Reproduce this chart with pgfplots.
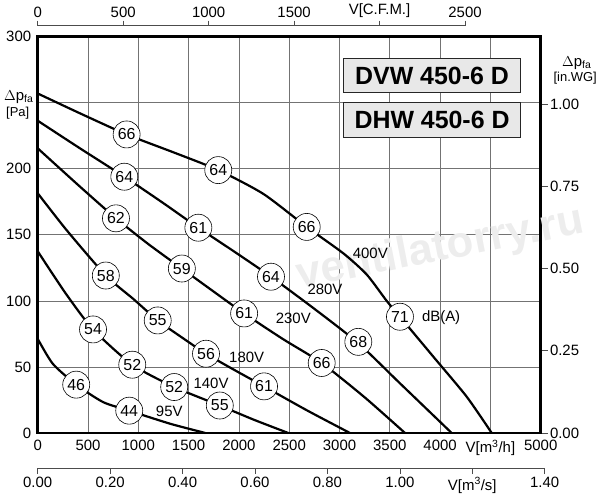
\documentclass[border=0pt]{standalone}
\usepackage{pgfplots}
\pgfplotsset{compat=1.18}
\usepackage{fontspec}
\setmainfont{Liberation Sans}
\newcommand{\fs}[1]{\fontsize{#1}{#1}\selectfont}
\begin{document}
\begin{tikzpicture}[x=1bp,y=1bp]
\useasboundingbox (-37.7,-67) rectangle (562.3,433);
% top CFM axis
\begin{axis}[at={(0,397.3bp)}, anchor=south west, scale only axis,
  width=427.3bp, height=10bp, xmin=0, xmax=2500, ymin=0, ymax=1,
  axis x line=top, axis y line=none, x axis line style={-, line width=0.6bp, black!70},
  tick align=outside, major tick length=5bp, xtick style={line width=0.6bp, black!70},
  xtick={0,500,...,2500}, xticklabels={0,500,1000,1500,{V[C.F.M.]},2500},
  xticklabel style={font=\fs{15}}]
\end{axis}
% bottom m3/s axis
\begin{axis}[at={(0,-35bp)}, anchor=south west, scale only axis,
  width=507bp, height=10bp, xmin=0, xmax=1.4, ymin=0, ymax=1,
  axis x line=bottom, axis y line=none, x axis line style={-, line width=0.6bp, black!70},
  tick align=outside, major tick length=6bp, xtick style={line width=0.6bp, black!70},
  xtick={0,0.2,...,1.41}, xticklabels={0.00,0.20,0.40,0.60,0.80,1.00,{V[m\textsuperscript{3}/s]},1.40},
  xticklabel style={font=\fs{15}}]
\end{axis}
% right in.WG axis
\begin{axis}[at={(503.3bp,0)}, anchor=south east, scale only axis,
  width=10bp, height=329bp, xmin=0, xmax=1, ymin=0, ymax=1,
  axis y line=right, axis x line=none, y axis line style={-, line width=0.6bp, black!70},
  tick align=outside, major tick length=6.5bp, ytick style={line width=0.6bp, black!70},
  ytick={0,0.25,0.5,0.75,1}, yticklabels={0.00,0.25,0.50,0.75,1.00},
  yticklabel style={font=\fs{15}, xshift=-1bp}]
\end{axis}
% main axis
\begin{axis}[at={(0,0)}, anchor=south west, scale only axis,
  width=503bp, height=396.3bp,
  xmin=0, xmax=5000, ymin=0, ymax=300,
  xtick={0,500,...,5000}, ytick={0,50,...,300},
  xticklabels={0,500,1000,1500,2000,2500,3000,3500,4000,{V[m\textsuperscript{3}/h]},5000},
  yticklabels={0,50,100,150,200,{},300},
  major tick length=0pt,
  grid=major, grid style={line width=0.7bp, black!55},
  axis line style={line width=2.5bp},
  tick label style={font=\fs{15}},
  xticklabel style={yshift=-3.5bp},
  yticklabel style={xshift=-3bp},
  clip=false]
\node[rotate=11, text=black!7, font=\bfseries\fs{44}] at (axis cs:4000,139) {ventilatorry.ru};
% 400V
\addplot[black, line width=2.2bp, smooth, tension=0.4] table {
x y
0 257
420 242
884 226
1348 212.5
1795 199
2243 181
2674 156
3038 136
3270 120
3469 100
3601 88
3930 58
4264 27.5
4513 0
};
% 280V
\addplot[black, line width=2.2bp, smooth, tension=0.4] table {
x y
0 236.4
420 215.5
861 194
1249 174
1597 155.4
1960 137
2319 118.3
2750 94
3187 68
3601 37.6
4115 0
};
% 230V
\addplot[black, line width=2.2bp, smooth, tension=0.4] table {
x y
0 215.5
420 186.5
778 162.5
1100 143
1433 124.5
1750 107
2052 90.5
2440 71
2823 53
3250 27
3651 0
};
% 180V
\addplot[black, line width=2.2bp, smooth, tension=0.4] table {
x y
0 181.5
288 153.5
677 119.2
950 101.5
1193 85.2
1430 72.5
1673 60
1960 47.5
2250 35.3
2680 17
3104 0
};
% 140V
\addplot[black, line width=2.2bp, smooth, tension=0.4] table {
x y
0 137.6
275 106
550 78.4
940 51.7
1357 34.8
1810 20.8
2150 10
2491 0
};
% 95V
\addplot[black, line width=2.2bp, smooth, tension=0.4] table {
x y
0 71.3
150 52.4
383 36.6
650 23.4
910 16.9
1317 7
1667 0
};
% dB circles
\addplot[draw=none, mark=none, nodes near coords, point meta=explicit symbolic,
  every node near coord/.append style={anchor=center, circle, draw=black, fill=white,
  line width=0.6bp, minimum size=27bp, inner sep=0pt, font=\fs{16}}] table[meta=l] {
x y l
884 226 66
1795 199 64
2674 156 66
3601 88 71
861 194 64
1597 155.4 61
2319 118.3 64
3187 69 68
778 162.5 62
1433 124.5 59
2052 90.5 61
2823 53 66
677 119.2 58
1193 85.2 55
1673 60 56
2250 35.3 61
550 78.4 54
940 51.7 52
1357 34.8 52
1810 20.8 55
383 36.6 46
910 16.9 44
};
% voltage labels
\addplot[draw=none, mark=none, nodes near coords, point meta=explicit symbolic,
  every node near coord/.append style={anchor=center, inner sep=0pt, font=\fs{15}}] table[meta=l] {
x y l
3306 136 400V
2856 108.8 280V
2541 86.8 230V
2077 57.3 180V
1723 37.6 140V
1308 16.7 95V
4010 87.6 dB(A)
};
% model boxes
\node[draw=black!85, line width=1.2bp, fill=black!9, minimum width=177.4bp, minimum height=34.4bp,
  inner sep=0pt, font=\bfseries\fs{25}] at (axis cs:3920,270.6) {DVW 450-6 D};
\node[draw=black!85, line width=1.2bp, fill=black!9, minimum width=177.4bp, minimum height=34.6bp,
  inner sep=0pt, font=\bfseries\fs{25}] at (axis cs:3920,236.9) {DHW 450-6 D};
\end{axis}
% left y-axis title
\node[font=\fs{15}] at (-19,336) {$\Delta$p\textsubscript{fa}};
\node[font=\fs{13}] at (-20,320) {[Pa]};
% right y-axis title
\node[font=\fs{15}] at (539,370) {$\Delta$p\textsubscript{fa}};
\node[font=\fs{13}] at (537.5,355) {[in.WG]};
\end{tikzpicture}
\end{document}
